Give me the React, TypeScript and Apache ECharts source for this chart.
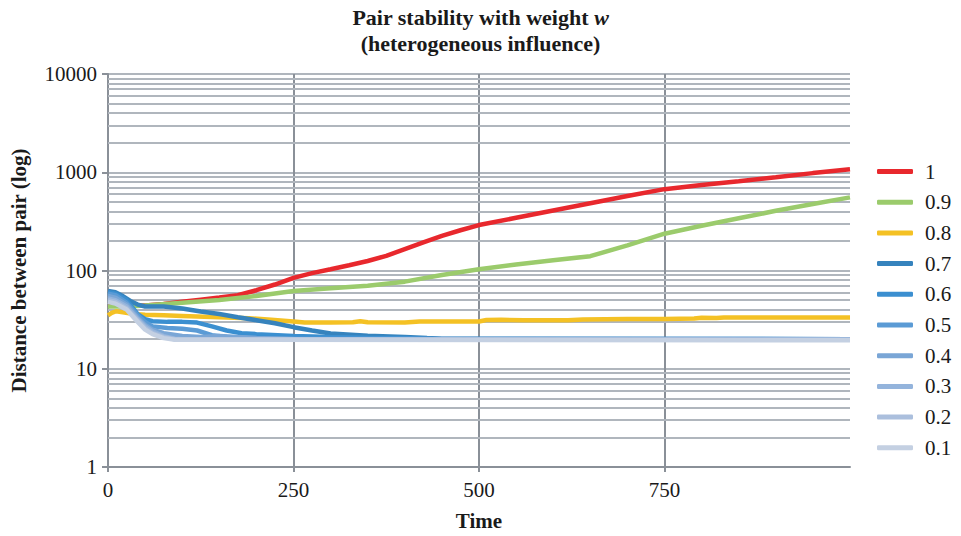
import React, { useEffect, useRef } from 'react';
import * as echarts from 'echarts';

const seriesNames = ['1', '0.9', '0.8', '0.7', '0.6', '0.5', '0.4', '0.3', '0.2', '0.1'];
const seriesColors = ['#e8282d', '#9bcb6c', '#f4c124', '#3683bd', '#3b8fd0', '#5b9bd5', '#7aa6d6', '#94b4dc', '#abbfdd', '#c4d0e2'];

const xTicks = [0, 250, 500, 750];
const yMajor = [1, 10, 100, 1000, 10000];
const yMinorGrid = [2, 3, 4, 5, 6, 7, 8, 9, 20, 30, 40, 50, 60, 70, 80, 90, 200, 300, 400, 500, 600, 700, 800, 900, 2000, 3000, 4000, 5000, 6000, 7000, 8000, 9000];

const w10 = [[0, 45], [25, 44], [50, 44], [75, 45.5], [100, 48], [125, 50.5], [150, 53], [175, 56], [200, 63], [225, 72], [250, 84], [275, 94], [300, 103], [325, 113], [350, 125], [375, 141], [400, 165], [425, 193], [450, 225], [475, 257], [500, 290], [550, 344], [600, 408], [650, 484], [700, 574], [750, 673], [800, 741], [850, 810], [900, 890], [950, 980], [1000, 1075]];
const w09 = [[0, 43], [25, 43], [50, 44], [100, 47], [150, 50], [200, 55], [250, 62], [300, 66], [350, 70], [400, 77], [450, 90], [500, 103], [550, 115], [600, 127], [650, 140], [700, 180], [750, 237], [800, 285], [850, 340], [900, 405], [950, 475], [1000, 555]];
const w08 = [[0, 35], [5, 37], [11, 38.5], [20, 37.5], [35, 36], [50, 35.5], [75, 35], [100, 34.5], [150, 33.5], [190, 32.7], [220, 31.5], [250, 30.3], [265, 29.5], [300, 29.5], [330, 29.8], [340, 30.5], [350, 29.7], [400, 29.6], [420, 30.2], [450, 30.2], [500, 30.3], [510, 31.3], [530, 31.5], [560, 31.2], [620, 31.2], [640, 31.8], [700, 32], [750, 32], [790, 32.4], [800, 33], [820, 32.8], [830, 33.3], [900, 33.3], [1000, 33.3]];
const w07 = [[0, 62], [10, 60], [20, 55], [30, 49], [40, 45], [50, 43], [75, 43], [100, 41], [125, 38.3], [150, 36], [175, 33.5], [200, 31.2], [225, 29], [250, 26.5], [275, 24.5], [300, 22.8], [350, 21.7], [400, 21], [430, 20.5], [450, 20.2], [1000, 20]];
const w06 = [[0, 60], [10, 58], [25, 50], [40, 36], [50, 32], [60, 30.5], [80, 30], [100, 30], [120, 29.5], [140, 27], [160, 24.5], [180, 23], [200, 22.5], [250, 21.5], [300, 21], [350, 20.7], [400, 20.5], [450, 20], [1000, 20]];
const w05 = [[0, 58], [10, 56], [25, 47], [40, 35], [50, 30], [60, 27], [80, 26], [100, 25.5], [120, 24.5], [140, 22], [160, 21], [200, 20.5], [250, 20.2], [1000, 20]];
const w04 = [[0, 55], [10, 53], [25, 45], [40, 33], [50, 28], [60, 25], [75, 23], [100, 21.5], [125, 21], [150, 21.5], [200, 20.5], [250, 20], [1000, 20]];
const w03 = [[0, 52], [10, 50], [25, 43], [40, 32], [50, 27], [60, 24], [75, 21.5], [90, 20.2], [100, 20], [1000, 19.8]];
const w02 = [[0, 50], [10, 48], [25, 41], [40, 31], [50, 26], [60, 23], [75, 21], [90, 20], [1000, 19.7]];
const w01 = [[0, 48], [10, 46], [25, 40], [40, 30], [50, 25], [60, 22.5], [75, 20.5], [90, 19.7], [1000, 19.5]];

const seriesData = [w10, w09, w08, w07, w06, w05, w04, w03, w02, w01];

const FONT = 'Liberation Serif';
const TEXT = '#1a1a1a';
const GRID = '#b0b6bd';
const AXIS = '#8a9098';

export default function App() {
  const ref = useRef<HTMLDivElement>(null);
  useEffect(() => {
    if (!ref.current) return;
    const chart = echarts.init(ref.current, undefined, { renderer: 'svg' });
    const lineSeries: any[] = seriesNames.map((name, i) => ({
      name,
      type: 'line',
      data: seriesData[i],
      symbol: 'none',
      showSymbol: false,
      smooth: false,
      color: seriesColors[i],
      lineStyle: { width: 4.5, color: seriesColors[i] },
      z: 3,
    }));
    lineSeries.unshift({
      name: 'minor-grid',
      type: 'line',
      data: [],
      symbol: 'none',
      silent: true,
      z: 1,
      markLine: {
        silent: true,
        symbol: 'none',
        z: 1,
        label: { show: false },
        lineStyle: { color: GRID, width: 2, type: 'solid' },
        emphasis: { disabled: true },
        data: yMinorGrid.map((v) => ({ yAxis: v })),
      },
    });
    chart.setOption({
      animation: false,
      backgroundColor: '#ffffff',
      title: {
        left: 'center',
        top: -1,
        text: '{a|Pair stability with weight }{b|w}\n{a|(heterogeneous influence)}',
        textStyle: {
          rich: {
            a: { fontFamily: FONT, fontSize: 22, fontWeight: 'bold', color: TEXT, lineHeight: 26 },
            b: { fontFamily: FONT, fontSize: 22, fontWeight: 'bold', fontStyle: 'italic', color: TEXT, lineHeight: 26 },
          },
        },
      },
      legend: {
        orient: 'vertical',
        left: 872,
        top: 156,
        itemWidth: 36,
        itemHeight: 5,
        itemGap: 9.7,
        icon: 'roundRect',
        data: seriesNames,
        textStyle: { fontFamily: FONT, fontSize: 21, color: TEXT, padding: [0, 0, 0, 7] },
      },
      grid: { left: 108, right: 111, top: 74, bottom: 62, containLabel: false },
      xAxis: {
        type: 'value',
        min: xTicks[0],
        max: 1000,
        interval: xTicks[1] - xTicks[0],
        name: 'Time',
        nameLocation: 'middle',
        nameGap: 43,
        nameTextStyle: { fontFamily: FONT, fontSize: 21, fontWeight: 'bold', color: TEXT },
        axisLine: { show: true, lineStyle: { color: AXIS, width: 2 } },
        axisTick: { show: true, length: 5, lineStyle: { color: AXIS, width: 2 } },
        axisLabel: { fontFamily: FONT, fontSize: 21, color: TEXT, margin: 12, showMaxLabel: false },
        splitLine: { show: true, showMinLine: false, showMaxLine: false, lineStyle: { color: AXIS, width: 2 } },
      },
      yAxis: {
        type: 'log',
        logBase: 10,
        min: yMajor[0],
        max: yMajor[yMajor.length - 1],
        name: 'Distance between pair (log)',
        nameLocation: 'middle',
        nameGap: 79,
        nameTextStyle: { fontFamily: FONT, fontSize: 21, fontWeight: 'bold', color: TEXT },
        axisLine: { show: true, lineStyle: { color: AXIS, width: 2 } },
        axisTick: { show: true, length: 6, lineStyle: { color: AXIS, width: 2 } },
        axisLabel: { fontFamily: FONT, fontSize: 21, color: TEXT, margin: 11, formatter: (v: number) => String(v) },
        splitLine: { show: true, lineStyle: { color: GRID, width: 2 } },
      },
      series: lineSeries,
    });
    return () => chart.dispose();
  }, []);
  return <div ref={ref} style={{ position: 'absolute', left: 0, top: 0, width: 961, height: 536 }} />;
}
